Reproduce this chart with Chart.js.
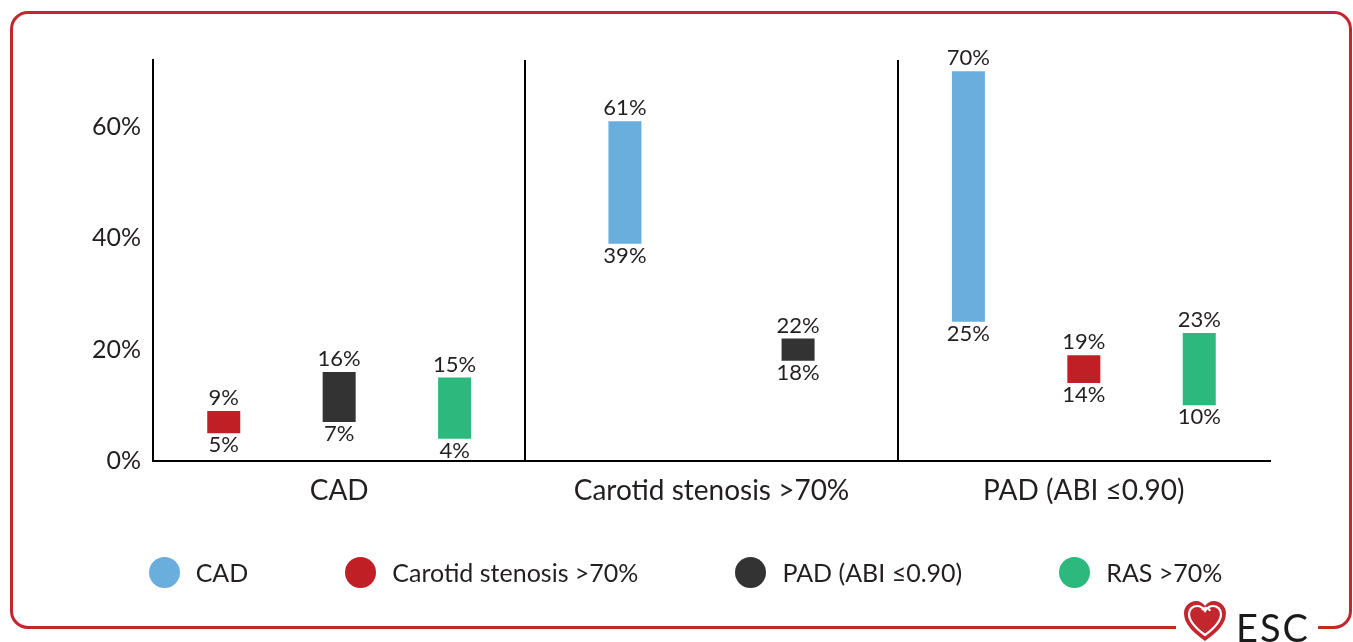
<!DOCTYPE html>
<html lang="en">
<head>
  <meta charset="UTF-8" />
  <title>Polyvascular disease prevalence</title>
  <script src="https://cdn.jsdelivr.net/npm/chart.js"></script>
  <style>
    body {
      margin: 0;
      background: #fff;
      font-family: 'Lato', sans-serif;
    }

    .frame {
      position: absolute;
      left: 10px;
      top: 11px;
      width: 1336px;
      height: 612px;
      border: 3px solid #c4262e;
      border-radius: 18px;
    }

    .chart-box {
      position: absolute;
      left: 0;
      top: 0;
      width: 1353px;
      height: 642px;
    }

    .legend {
      position: absolute;
      left: 18px;
      top: 556px;
      width: 1335px;
      display: flex;
      justify-content: center;
      gap: 97px;
    }

    .legend-item {
      display: flex;
      align-items: center;
      gap: 16px;
      font-size: 25px;
      color: #231f20;
      line-height: 32px;
    }

    .legend-dot {
      width: 31px;
      height: 31px;
      border-radius: 50%;
    }

    .logo {
      position: absolute;
      left: 1176px;
      top: 600px;
      width: 142px;
      height: 42px;
      background: #fff;
      display: flex;
      align-items: center;
      gap: 8px;
      padding-left: 6px;
      box-sizing: border-box;
    }

    .logo span {
      font-size: 38px;
      letter-spacing: 2px;
      color: #1a1a1a;
      line-height: 1;
      margin-top: 12px;
    }
  </style>
</head>
<body>

  <div class="frame"></div>
  <div class="chart-box">
    <canvas id="rangeChart"></canvas>
  </div>
  <div class="legend" id="legend"></div>
  <div class="logo">
    <svg width="46" height="42" viewBox="0 0 46 42">
      <path d="M23 41 C 9 31, 2 23, 2 13 C 2 6, 8 1, 14 1 C 18 1, 21 3, 23 6 C 25 3, 28 1, 32 1 C 38 1, 44 6, 44 13 C 44 23, 37 31, 23 41 Z" fill="#c4262e"/>
      <path d="M23 35 C 12 27, 7 21, 7 14 C 7 9, 11 6, 15 6 C 18 6, 21 8, 23 11 C 25 8, 28 6, 31 6 C 35 6, 39 9, 39 14 C 39 21, 34 27, 23 35 Z" fill="none" stroke="#fff" stroke-width="2.2"/>
      <path d="M20 10 C 22 7, 27 7, 28 11" fill="none" stroke="#fff" stroke-width="2"/>
    </svg>
    <span>ESC</span>
  </div>

  <script>
    // Groups on the x axis and the four disease series
    const groups = ['CAD', 'Carotid stenosis >70%', 'PAD (ABI \u22640.90)'];
    const seriesNames = ['CAD', 'Carotid stenosis >70%', 'PAD (ABI \u22640.90)', 'RAS >70%'];
    const seriesColors = ['#6aaede', '#c01f26', '#333333', '#2db87d'];

    // Prevalence ranges (%) per group, null where not reported
    const cadLow = [null, 39, 25];
    const cadHigh = [null, 61, 70];
    const carotidLow = [5, null, 14];
    const carotidHigh = [9, null, 19];
    const padLow = [7, 18, null];
    const padHigh = [16, 22, null];
    const rasLow = [4, null, 10];
    const rasHigh = [15, null, 23];

    const yTicks = [0, 20, 40, 60];
    const yMax = 72;

    const lows = [cadLow, carotidLow, padLow, rasLow];
    const highs = [cadHigh, carotidHigh, padHigh, rasHigh];

    const datasets = seriesNames.map((name, i) => ({
      label: name,
      data: lows[i].map((lo, j) => lo === null ? null : [lo, highs[i][j]]),
      backgroundColor: seriesColors[i],
      borderWidth: 0
    }));

    // Writes the high value above each bar and the low value below it
    const rangeLabels = {
      id: 'rangeLabels',
      afterDatasetsDraw(chart) {
        const ctx = chart.ctx;
        ctx.save();
        ctx.font = '22px Lato, sans-serif';
        ctx.fillStyle = '#231f20';
        ctx.textAlign = 'center';
        chart.data.datasets.forEach((ds, i) => {
          const meta = chart.getDatasetMeta(i);
          meta.data.forEach((bar, j) => {
            const v = ds.data[j];
            if (!v) return;
            const top = Math.min(bar.y, bar.base);
            const bottom = Math.max(bar.y, bar.base);
            ctx.textBaseline = 'bottom';
            ctx.fillText(v[1] + '%', bar.x, top - 2);
            ctx.textBaseline = 'top';
            ctx.fillText(v[0] + '%', bar.x, bottom + 1);
          });
        });
        ctx.restore();
      }
    };

    const chart = new Chart(document.getElementById('rangeChart'), {
      type: 'bar',
      data: { labels: groups, datasets: datasets },
      plugins: [rangeLabels],
      options: {
        responsive: true,
        maintainAspectRatio: false,
        animation: false,
        skipNull: true,
        categoryPercentage: 0.93,
        barPercentage: 1,
        maxBarThickness: 33,
        layout: { padding: { top: 60, right: 83, bottom: 121, left: 0 } },
        scales: {
          x: {
            afterFit: s => { s.height = 60; },
            grid: {
              display: true,
              offset: true,
              drawTicks: false,
              lineWidth: 2,
              color: c => (c.index === 1 || c.index === 2) ? '#000' : 'rgba(0,0,0,0)'
            },
            border: { display: true, color: '#000', width: 2 },
            ticks: {
              color: '#231f20',
              font: { family: 'Lato', size: 28 },
              padding: 13
            }
          },
          y: {
            min: 0,
            max: yMax,
            afterFit: s => { s.width = 153; },
            afterBuildTicks: s => { s.ticks = yTicks.map(v => ({ value: v })); },
            grid: { display: false },
            border: { display: true, color: '#000', width: 2 },
            ticks: {
              color: '#231f20',
              font: { family: 'Lato', size: 25 },
              padding: 4,
              callback: v => v + '%'
            }
          }
        },
        plugins: {
          legend: { display: false },
          tooltip: { enabled: false }
        }
      }
    });

    // Legend below the chart, one dot per series
    const legendBox = document.getElementById('legend');
    chart.data.datasets.forEach(ds => {
      const item = document.createElement('div');
      item.className = 'legend-item';
      item.innerHTML = `<div class="legend-dot" style="background:${ds.backgroundColor}"></div><span>${ds.label}</span>`;
      legendBox.appendChild(item);
    });
  </script>

</body>
</html>
